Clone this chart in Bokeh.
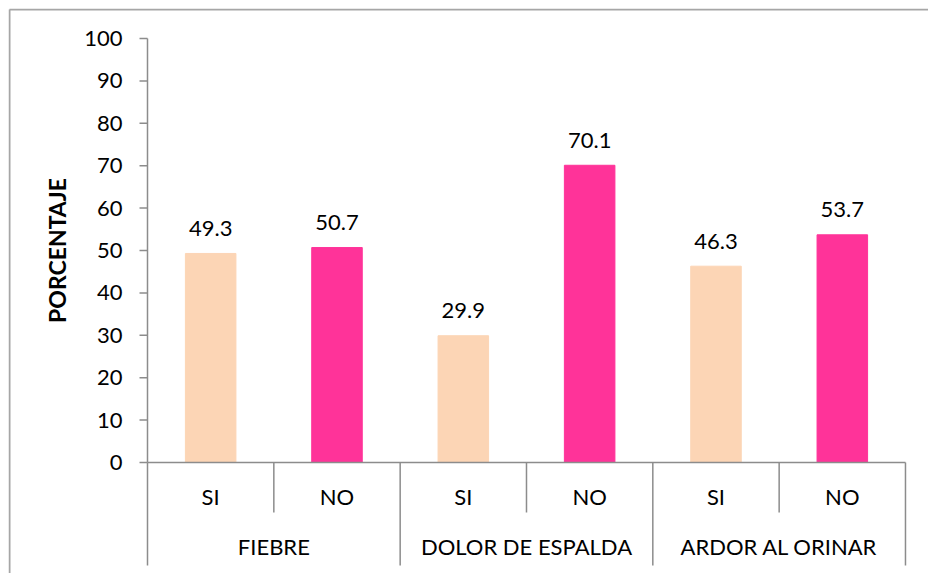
import math
from bokeh.plotting import figure
from bokeh.models import ColumnDataSource, Range1d
from bokeh.core.properties import value
from bokeh.embed import file_html
from bokeh.resources import INLINE

groups = ["FIEBRE", "DOLOR DE ESPALDA", "ARDOR AL ORINAR"]
subcats = ["SI", "NO"]
si_values = [49.3, 29.9, 46.3]
no_values = [50.7, 70.1, 53.7]
y_ticks = [0, 10, 20, 30, 40, 50, 60, 70, 80, 90, 100]
y_title = "PORCENTAJE"
colors = {"SI": "#FCD5B5", "NO": "#FF3399"}

AXIS_COLOR = "#8c8c8c"
BORDER_COLOR = "#a6a6a6"
FONT = "Lato"

W, H = 920, 565
PX_X0 = 139
PX_PER_CAT = 126.33
PX_Y100 = 30
PX_PER_UNIT = 4.24
PX_Y0 = PX_Y100 + 100 * PX_PER_UNIT


def dx(px):
    return (px - PX_X0) / PX_PER_CAT


def dy(py):
    return (PX_Y0 - py) / PX_PER_UNIT


xs, tops, cols, labels, sublabels = [], [], [], [], []
for gi, g in enumerate(groups):
    for si, s in enumerate(subcats):
        v = si_values[gi] if s == "SI" else no_values[gi]
        xs.append(gi * len(subcats) + si + 0.5)
        tops.append(v)
        cols.append(colors[s])
        labels.append(f"{v:.1f}")
        sublabels.append(s)
src = ColumnDataSource(dict(x=xs, top=tops, color=cols, label=labels, sub=sublabels))
n = len(groups) * len(subcats)

p = figure(width=W, height=H, output_backend="svg", toolbar_location=None,
           x_range=Range1d(dx(0), dx(W)), y_range=Range1d(dy(H), dy(0)),
           x_axis_location=None, y_axis_location=None,
           min_border=0, min_border_left=0, min_border_right=0,
           min_border_top=0, min_border_bottom=0,
           styles={"margin-left": "8px", "margin-top": "8px"})
p.outline_line_color = None
p.xgrid.visible = False
p.ygrid.visible = False

# outer chart border (left and top edges)
p.segment(x0=[dx(1)], y0=[dy(1)], x1=[dx(1)], y1=[dy(H + 10)],
          line_color=BORDER_COLOR, line_width=2)
p.segment(x0=[dx(1)], y0=[dy(1)], x1=[dx(W + 10)], y1=[dy(1)],
          line_color=BORDER_COLOR, line_width=2)

# value axis
tick_src = ColumnDataSource(dict(y=y_ticks, lab=[str(t) for t in y_ticks]))
p.segment(x0=[0], y0=[min(y_ticks)], x1=[0], y1=[max(y_ticks)],
          line_color=AXIS_COLOR, line_width=1.5)
p.segment(x0=dx(PX_X0 - 8), y0="y", x1=0, y1="y", source=tick_src,
          line_color=AXIS_COLOR, line_width=1.5)
p.text(x=0, y="y", text="lab", source=tick_src, x_offset=-25,
       text_align="right", text_baseline="middle", text_font=value(FONT),
       text_font_size="22px", text_color="black")
p.text(x=[dx(48)], y=[(min(y_ticks) + max(y_ticks)) / 2], text=[y_title],
       angle=math.pi / 2, text_align="center", text_baseline="middle",
       text_font=value(FONT), text_font_style="bold", text_font_size="23px",
       text_color="black")

# bars and data labels
p.vbar(x="x", top="top", width=0.4, bottom=0, color="color", source=src)
p.text(x="x", y="top", text="label", source=src, text_align="center",
       text_baseline="alphabetic", y_offset=-25, text_font=value(FONT),
       text_font_size="22px", text_color="black")

# category axis: baseline, separators, labels
p.segment(x0=[0], y0=[0], x1=[n], y1=[0], line_color=AXIS_COLOR, line_width=1.5)
bx = list(range(n + 1))
is_group_edge = [i % len(subcats) == 0 for i in bx]
p.segment(x0=bx, y0=[0] * len(bx), x1=bx,
          y1=[dy(557) if e else dy(504) for e in is_group_edge],
          line_color=AXIS_COLOR, line_width=1.5)
p.text(x="x", y=dy(488), text="sub", source=src, text_align="center",
       text_baseline="middle", text_font=value(FONT), text_font_size="22px",
       text_color="black")
gx = [gi * len(subcats) + len(subcats) / 2 for gi in range(len(groups))]
p.text(x=gx, y=[dy(538)] * len(groups), text=groups, text_align="center",
       text_baseline="middle", text_font=value(FONT), text_font_size="22px",
       text_color="black")

open("out.html", "w").write(file_html(p, INLINE))
